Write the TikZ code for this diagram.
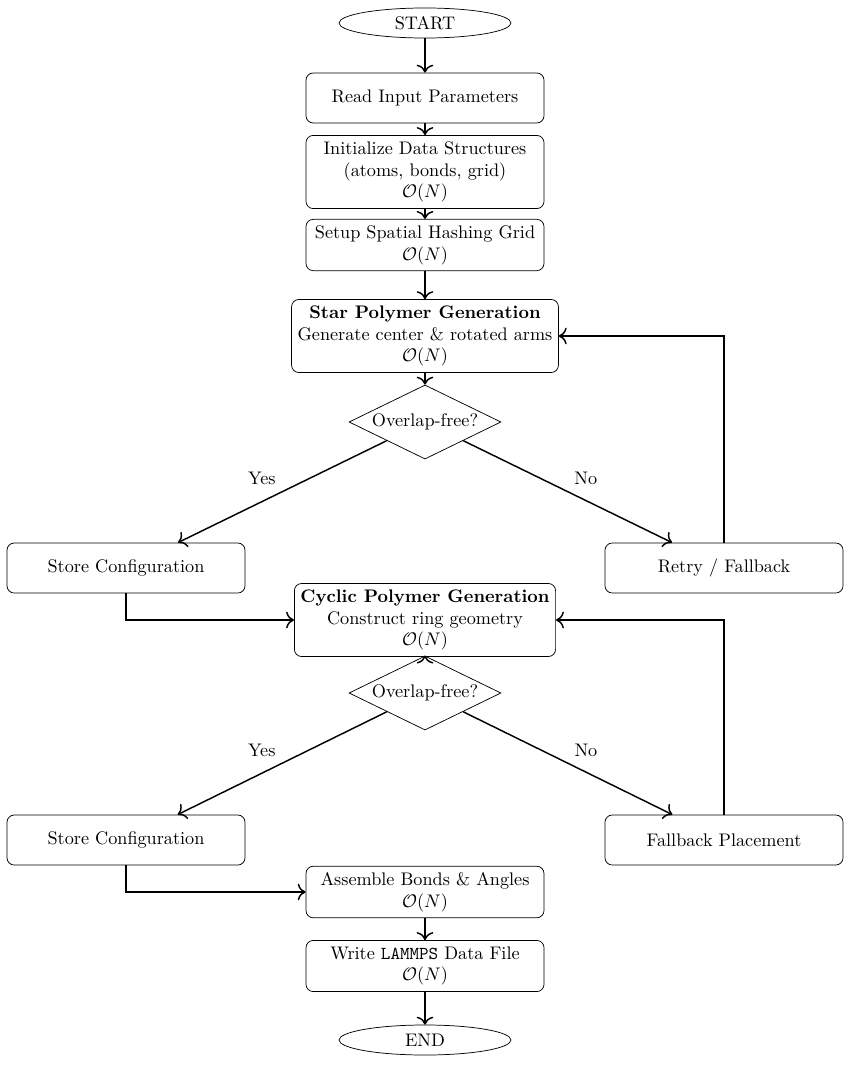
\documentclass[tikz,border=0pt]{standalone}
\usetikzlibrary{shapes.geometric,arrows.meta}
\begin{document}
\begin{tikzpicture}[x=0.5495pt,y=-0.5495pt,
  proc/.style={rectangle, rounded corners, draw, thin, align=center, minimum width=130.8pt, minimum height=27.5pt},
  term/.style={ellipse, draw, thin, minimum width=94.5pt, minimum height=16.5pt, inner sep=0pt},
  dec/.style={diamond, aspect=2, draw, thin, minimum width=83.5pt, minimum height=40.7pt, inner sep=0pt},
  arr/.style={-{To[scale=1.3]}, thick}]
\useasboundingbox (0,0) rectangle (850,1065);
\node[term] (start) at (425,23) {START};
\node[proc] (read) at (425,98) {Read Input Parameters};
\node[proc] (init) at (425,172) {Initialize Data Structures\\(atoms, bonds, grid)\\$\mathcal{O}(N)$};
\node[proc] (setup) at (425,245) {Setup Spatial Hashing Grid\\$\mathcal{O}(N)$};
\node[proc] (star) at (425,336) {\textbf{Star Polymer Generation}\\Generate center \& rotated arms\\$\mathcal{O}(N)$};
\node[dec] (d1) at (425,422) {Overlap-free?};
\node[proc] (store1) at (126,568) {Store Configuration};
\node[proc] (retry) at (724,568) {Retry / Fallback};
\node[proc] (cyclic) at (425,620) {\textbf{Cyclic Polymer Generation}\\Construct ring geometry\\$\mathcal{O}(N)$};
\node[dec] (d2) at (425,693) {Overlap-free?};
\node[proc] (store2) at (126,840) {Store Configuration};
\node[proc] (fallback) at (724,840) {Fallback Placement};
\node[proc] (assemble) at (425,892) {Assemble Bonds \& Angles\\$\mathcal{O}(N)$};
\node[proc] (write) at (425,966) {Write \texttt{LAMMPS} Data File\\$\mathcal{O}(N)$};
\node[term] (end) at (425,1040) {END};

\draw[arr] (start) -- (read);
\draw[arr] (read) -- (init);
\draw[arr] (init) -- (setup);
\draw[arr] (setup) -- (star);
\draw[arr] (star) -- (d1);
\draw[arr] (d1) -- node[midway, above left] (yes1) {Yes} (store1);
\draw[arr] (d1) -- node[midway, above right] (no1) {No} (retry);
\draw[arr] (retry.north) |- (star.east);
\draw[arr] (store1.south) |- (cyclic.west);
\draw[arr] (cyclic) -- (d2);
\draw[arr] (d2) -- node[midway, above left] (yes2) {Yes} (store2);
\draw[arr] (d2) -- node[midway, above right] (no2) {No} (fallback);
\draw[arr] (fallback.north) |- (cyclic.east);
\draw[arr] (store2.south) |- (assemble.west);
\draw[arr] (assemble) -- (write);
\draw[arr] (write) -- (end);
\end{tikzpicture}
\end{document}
